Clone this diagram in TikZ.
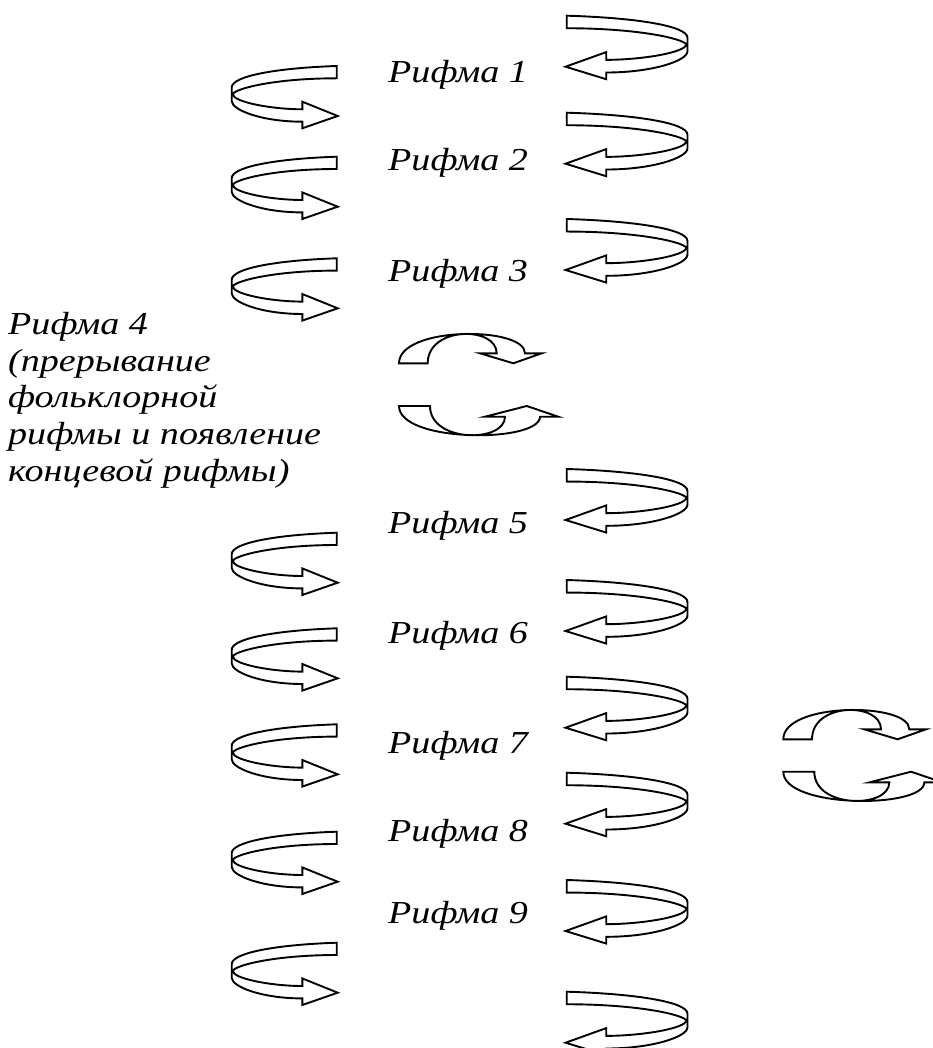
\documentclass[tikz,border=0pt]{standalone}
\usepackage{fontspec}
\setmainfont[FakeStretch=1.19]{Liberation Serif}

\begin{document}
\begin{tikzpicture}[
x=1pt, y=-1pt,
rhyme/.style={font=\itshape\fontsize{32}{36.7}\selectfont, inner sep=0pt, anchor=base west},
ribbon/.style={draw=black, line width=1.9pt, fill=white, line join=miter},
twist/.pic={
  \draw[ribbon] (0,0) .. controls (-60,2) and (-105,10) .. (-105,21.5)
    -- (-105,35) .. controls (-105,44) and (-75,55.7) .. (-34.4,55.7)
    -- (-34.4,62.3) -- (1,50) -- (-34.4,35.7) -- (-34.4,43.3)
    .. controls (-65,43.3) and (-104,36) .. (-104,28)
    .. controls (-100,22) and (-60,12.3) .. (0,12.3) -- cycle;
},
loopdown/.pic={
  \draw[ribbon] (0,0) .. controls (0,-37.3) and (126,-37.3) .. (126,-10)
    -- (142.7,-10) -- (114.3,0) -- (81,-10) -- (97.7,-10)
    .. controls (97.7,-37.3) and (28.7,-37.3) .. (28.7,0) -- cycle;
},
loopup/.pic={
  \draw[ribbon] (0,0) .. controls (0,37) and (141,37) .. (141,10.7)
    -- (159.3,10.7) -- (127.7,0) -- (86,10.7) -- (106,10.7)
    .. controls (106,37) and (31,37) .. (31,0) -- cycle;
}
]
\useasboundingbox (0,0) rectangle (932,1048);

% twisted arrows, left and right columns
\foreach \ty in {66,156.7,258.3,532.7,628.3,724.3,831.7,942.7}
  \pic at (336.7,\ty) {twist};
\foreach \ty in {15.7,112.7,219,469,580,676.7,772.7,880,991.7}
  \pic[xscale=-1.15, yscale=1.02] at (566.7,\ty) {twist};

% circular arrows
\pic at (399,363.3) {loopdown};
\pic at (399,406) {loopup};
\pic at (783.3,739.3) {loopdown};
\pic at (783.3,771.7) {loopup};

% labels
\node[rhyme] (rhyme1) at (388,83) {Рифма 1};
\node[rhyme] (rhyme2) at (388,171) {Рифма 2};
\node[rhyme] (rhyme3) at (388,281) {Рифма 3};
\node[rhyme, anchor=north west, align=left] (rhyme4) at (8,312)
  {Рифма 4\\(прерывание\\фольклорной\\рифмы и появление\\концевой рифмы)};
\node[rhyme] (rhyme5) at (388,533) {Рифма 5};
\node[rhyme] (rhyme6) at (388,643) {Рифма 6};
\node[rhyme] (rhyme7) at (388,753) {Рифма 7};
\node[rhyme] (rhyme8) at (388,841) {Рифма 8};
\node[rhyme] (rhyme9) at (388,923) {Рифма 9};
\end{tikzpicture}
\end{document}
